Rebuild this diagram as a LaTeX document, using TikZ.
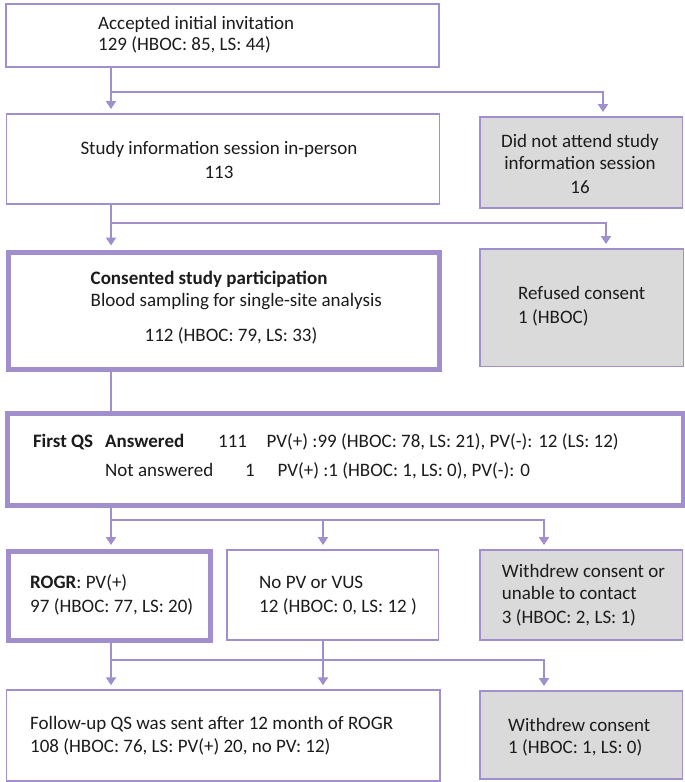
\documentclass[tikz,border=0pt]{standalone}
\usepackage{fontspec}
\setmainfont{Carlito}
\usetikzlibrary{arrows.meta}
\definecolor{lav}{RGB}{160,142,205}
\definecolor{boxgray}{RGB}{218,218,218}
\definecolor{txt}{RGB}{28,28,28}
\begin{document}
\begin{tikzpicture}[x=1pt,y=-1pt,
  thinbox/.style={draw=lav, line width=1.5pt, anchor=north west, inner sep=0pt, fill=white},
  thickbox/.style={draw=lav, line width=5pt, anchor=north west, inner sep=0pt, fill=white},
  graybox/.style={draw=lav, line width=1.5pt, anchor=north west, inner sep=0pt, fill=boxgray},
  lbl/.style={anchor=base west, inner sep=0pt, text=txt, font=\fontsize{19}{23}\selectfont},
  clbl/.style={anchor=base, inner sep=0pt, text=txt, font=\fontsize{19}{23}\selectfont},
  conn/.style={draw=lav, line width=2pt},
  arr/.style={conn, -{Triangle[width=10pt,length=8pt]}, shorten >=4pt},
]
\useasboundingbox (0,0) rectangle (685,782);
\fill[white] (0,0) rectangle (685,782);

% boxes
\node[thinbox, minimum width=433pt, minimum height=63pt] (A) at (5,3) {};
\node[thinbox, minimum width=433pt, minimum height=90pt] (B) at (5.5,113) {};
\node[graybox, minimum width=202.5pt, minimum height=91pt] (C) at (479,116) {};
\node[thickbox, minimum width=431.5pt, minimum height=117pt] (D) at (5.5,249.5) {};
\node[graybox, minimum width=203.5pt, minimum height=117.5pt] (E) at (479,248) {};
\node[thickbox, minimum width=676pt, minimum height=92.5pt] (F) at (4.5,410.5) {};
\node[thickbox, minimum width=202pt, minimum height=89pt] (G) at (5.5,549) {};
\node[thinbox, minimum width=211.7pt, minimum height=90.3pt] (H) at (226,549) {};
\node[graybox, minimum width=202.7pt, minimum height=90.3pt] (I) at (479,549) {};
\node[thinbox, minimum width=433.3pt, minimum height=90.7pt] (J) at (5.7,689.3) {};
\node[graybox, minimum width=202.7pt, minimum height=88.3pt] (K) at (479,690) {};

% helper coordinates
\coordinate (xL) at (111,0);
\coordinate (xM) at (323,0);
\coordinate (xR) at (544,0);
\coordinate (xC) at (603,0);
\coordinate (xE) at (606,0);
\coordinate (y1) at (0,92);
\coordinate (y2) at (0,223);
\coordinate (y3) at (0,520);
\coordinate (y4) at (0,660);

% connectors
\draw[arr] (A.south -| xL) -- (B.north -| xL);
\draw[arr] (xL |- y1) -| (C.north -| xC);
\draw[arr] (B.south -| xL) -- (D.north -| xL);
\draw[arr] (xL |- y2) -| (E.north -| xE);
\draw[conn] (D.south -| xL) -- (F.north -| xL);
\draw[arr] (F.south -| xL) -- (G.north -| xL);
\draw[arr] (xL |- y3) -| (H.north -| xM);
\draw[arr] (xL |- y3) -| (I.north -| xR);
\draw[arr] (G.south -| xL) -- (J.north -| xL);
\draw[arr] (H.south -| xM) -- (J.north -| xM);
\draw[arr] (xL |- y4) -| (K.north -| xR);

% texts
\node[lbl] (a1) at (98,29) {Accepted initial invitation};
\node[lbl] (a2) at (98,50) {129 (HBOC: 85, LS: 44)};
\node[clbl] (b1) at (219,154.5) {Study information session in-person};
\node[clbl] (b2) at (219,178.5) {113};
\node[clbl] (c1) at (580,147) {Did not attend study};
\node[clbl] (c2) at (580,169.5) {information session};
\node[clbl] (c3) at (580,193) {16};
\node[lbl] (d1) at (90.5,284) {\bfseries Consented study participation};
\node[lbl] (d2) at (90.5,306.5) {Blood sampling for single-site analysis};
\node[clbl] (d3) at (231,341) {112 (HBOC: 79, LS: 33)};
\node[lbl] (e1) at (518,299) {Refused consent};
\node[lbl] (e2) at (518,323) {1 (HBOC)};
\node[lbl] (f1) at (32.8,447.5) {\bfseries First QS};
\node[lbl] (f2) at (105,447.5) {\bfseries Answered};
\node[lbl] (f3) at (218,447.5) {111};
\node[lbl] (f4) at (266.5,447.5) {PV(+) :99 (HBOC: 78, LS: 21), PV(-): 12 (LS: 12)};
\node[lbl] (f5) at (105,476) {Not answered};
\node[lbl] (f6) at (245,476) {1};
\node[lbl] (f7) at (277.4,476) {PV(+) :1 (HBOC: 1, LS: 0), PV(-): 0};
\node[lbl] (g1) at (30,588) {\textbf{ROGR}: PV(+)};
\node[lbl] (g2) at (30,612) {97 (HBOC: 77, LS: 20)};
\node[lbl] (h1) at (259,588) {No PV or VUS};
\node[lbl] (h2) at (259,612) {12 (HBOC: 0, LS: 12 )};
\node[lbl] (i1) at (501.7,577) {Withdrew consent or};
\node[lbl] (i2) at (501.7,599.5) {unable to contact};
\node[lbl] (i3) at (501.7,623) {3 (HBOC: 2, LS: 1)};
\node[lbl] (j1) at (30,729) {Follow-up QS was sent after 12 month of ROGR};
\node[lbl] (j2) at (30,752) {108 (HBOC: 76, LS: PV(+) 20, no PV: 12)};
\node[lbl] (k1) at (508,731) {Withdrew consent};
\node[lbl] (k2) at (508,753) {1 (HBOC: 1, LS: 0)};
\end{tikzpicture}
\end{document}
